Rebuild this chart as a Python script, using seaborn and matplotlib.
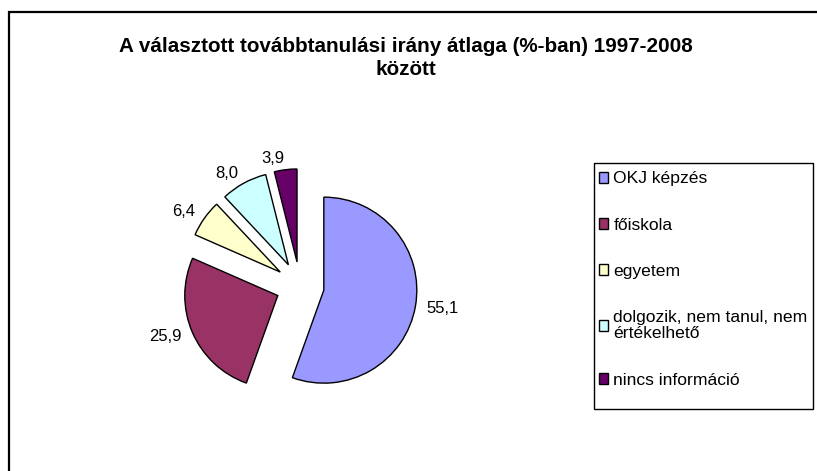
import matplotlib.pyplot as plt
import seaborn as sns
from matplotlib.patches import Rectangle

categories = ['OKJ képzés', 'főiskola', 'egyetem',
              'dolgozik, nem tanul, nem\nértékelhető', 'nincs információ']
values = [55.1, 25.9, 6.4, 8.0, 3.9]
colors = ['#9999FF', '#993366', '#FFFFCC', '#CCFFFF', '#660066']
title = 'A választott továbbtanulási irány átlaga (%-ban) 1997-2008\nközött'

sns.set_theme(style='white')
plt.rcParams['font.family'] = ['Liberation Sans', 'DejaVu Sans']
plt.rcParams['text.color'] = 'black'

W, H = 817, 471
fig = plt.figure(figsize=(W / 100, H / 100), dpi=100)

# pie axes: center ~ (300, 286) px, radius 93 px
L = 1.6
r_px = 93
cx, cy = 300, 286
half = r_px * L
ax = fig.add_axes([(cx - half) / W, (H - cy - half) / H, 2 * half / W, 2 * half / H])

labels = [f'{v:.1f}'.replace('.', ',') for v in values]
wedges, texts = ax.pie(values, colors=sns.color_palette(colors), labels=labels,
                       startangle=90, counterclock=False, radius=1,
                       explode=[0.26] * len(values), labeldistance=1.12,
                       wedgeprops=dict(edgecolor='black', linewidth=1),
                       textprops=dict(fontsize=12, color='black'))
ax.set_xlim(-L, L)
ax.set_ylim(-L, L)
ax.set_aspect('equal')
ax.axis('off')

fig.text(406 / W, 1 - 58 / H, title, ha='center', va='center', color='black',
         fontsize=14.9, fontweight='bold', linespacing=1.3)

# legend
leg = fig.legend(wedges, categories, loc='upper left',
                 bbox_to_anchor=(595 / W, 1 - 168 / H), frameon=False,
                 fontsize=12.6, handlelength=0.55, handleheight=0.55,
                 handletextpad=0.3, labelspacing=1.78, borderpad=0.2,
                 borderaxespad=0, labelcolor='black')
leg.get_texts()[3].set_linespacing(1.12)
fig.patches.append(Rectangle((594 / W, 1 - 409 / H), (813 - 594) / W, (409 - 163) / H,
                             transform=fig.transFigure, fill=False,
                             edgecolor='black', linewidth=1))

# outer chart border
fig.patches.append(Rectangle((9 / W, -0.1), 1.2, 1.1 - 12 / H,
                             transform=fig.transFigure, fill=False,
                             edgecolor='black', linewidth=1.6))

fig.savefig('out.png', dpi=100, facecolor='white')
